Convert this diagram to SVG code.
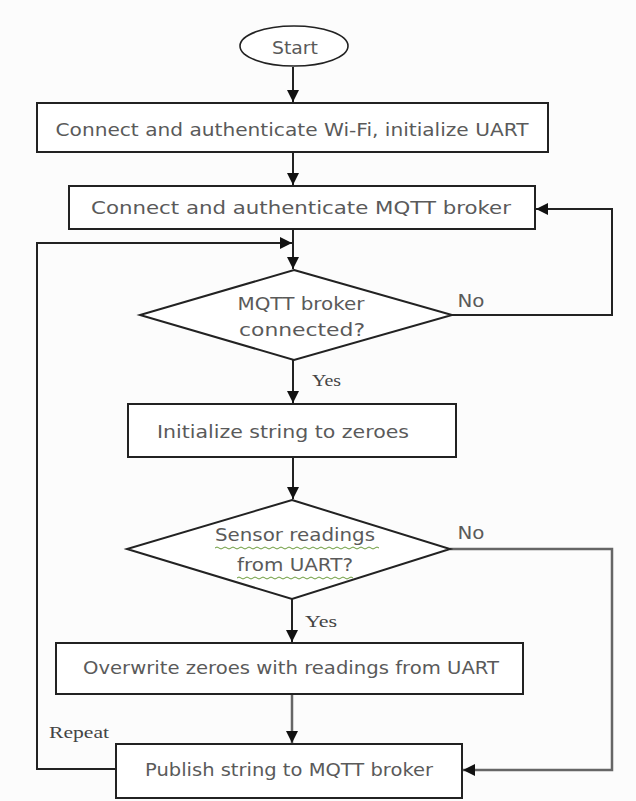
<svg xmlns="http://www.w3.org/2000/svg" width="636" height="801" viewBox="0 0 636 801">
<defs>
<marker id="ah" markerUnits="userSpaceOnUse" markerWidth="12" markerHeight="12" refX="12" refY="6" orient="auto">
<path d="M0,0 L12,6 L0,12 Z" fill="#111"/>
</marker>
<style>
.box{fill:#fff;stroke:#222;stroke-width:2}
.t{font-family:"DejaVu Sans","Liberation Sans",sans-serif;font-size:18px;fill:#5a5a5a;text-anchor:middle;dominant-baseline:central}
.s{font-family:"Liberation Serif","Times New Roman",serif;font-size:17px;fill:#444}
.ln{fill:none;stroke:#222;stroke-width:2}
.lg{fill:none;stroke:#666;stroke-width:2.5}
.sq{fill:none;stroke:#6a9a3a;stroke-width:1}
</style>
</defs>
<rect width="636" height="801" fill="#fcfcfc"/>
<g id="connectors">
<path class="ln" d="M293,67 V102" marker-end="url(#ah)"/>
<path class="ln" d="M293,152 V185" marker-end="url(#ah)"/>
<path class="ln" d="M293,229 V269" marker-end="url(#ah)"/>
<path class="ln" d="M452,315 H612 V209 H536" marker-end="url(#ah)"/>
<path class="ln" d="M293,360 V403" marker-end="url(#ah)"/>
<path class="ln" d="M293,457 V499" marker-end="url(#ah)"/>
<path class="lg" d="M450,549 H612 V770 H463" marker-end="url(#ah)"/>
<path class="ln" d="M292,599 V642" marker-end="url(#ah)"/>
<path class="lg" d="M292,694 V743" marker-end="url(#ah)"/>
<path class="ln" d="M116,769 H37 V243 H292" marker-end="url(#ah)"/>
</g>
<g id="start">
<ellipse cx="294" cy="46" rx="54" ry="20" fill="#fff" stroke="#222" stroke-width="1.6"/>
<text class="t" x="295" y="47" textLength="46" lengthAdjust="spacingAndGlyphs">Start</text>
</g>
<g id="wifi">
<rect class="box" x="37" y="103" width="511" height="49"/>
<text class="t" x="292" y="129" textLength="473" lengthAdjust="spacingAndGlyphs">Connect and authenticate Wi-Fi, initialize UART</text>
</g>
<g id="mqtt">
<rect class="box" x="69" y="186" width="466" height="43"/>
<text class="t" x="301" y="207" textLength="420" lengthAdjust="spacingAndGlyphs">Connect and authenticate MQTT broker</text>
</g>
<g id="mqttCheck">
<polygon class="box" points="294,270 452,315 294,360 140,315"/>
<text class="t" x="301" y="303" textLength="127" lengthAdjust="spacingAndGlyphs">MQTT broker</text>
<text class="t" x="302" y="329" textLength="126" lengthAdjust="spacingAndGlyphs">connected?</text>
</g>
<g id="init">
<rect class="box" x="128" y="404" width="328" height="53"/>
<text class="t" x="283" y="431" textLength="252" lengthAdjust="spacingAndGlyphs">Initialize string to zeroes</text>
</g>
<g id="sensorCheck">
<polygon class="box" points="292,500 450,549 292,599 127,549"/>
<text class="t" x="295" y="534" textLength="160" lengthAdjust="spacingAndGlyphs">Sensor readings</text>
<path class="sq" d="M215,548 q2,-2 4,0 t4,0 t4,0 t4,0 t4,0 t4,0 t4,0 t4,0 t4,0 t4,0 t4,0 t4,0 t4,0 t4,0 t4,0 t4,0 t4,0 t4,0 t4,0 t4,0 t4,0 t4,0 t4,0 t4,0 t4,0 t4,0 t4,0 t4,0 t4,0 t4,0 t4,0 t4,0 t4,0 t4,0 t4,0 t4,0 t4,0 t4,0 t4,0 t4,0 t4,0"/>
<text class="t" x="295" y="564" textLength="116" lengthAdjust="spacingAndGlyphs">from UART?</text>
<path class="sq" d="M237,578 q2,-2 4,0 t4,0 t4,0 t4,0 t4,0 t4,0 t4,0 t4,0 t4,0 t4,0 t4,0 t4,0 t4,0 t4,0 t4,0 t4,0 t4,0 t4,0 t4,0 t4,0 t4,0 t4,0 t4,0 t4,0 t4,0 t4,0 t4,0 t4,0 t4,0"/>
</g>
<g id="overwrite">
<rect class="box" x="56" y="643" width="467" height="51"/>
<text class="t" x="291" y="667" textLength="416" lengthAdjust="spacingAndGlyphs">Overwrite zeroes with readings from UART</text>
</g>
<g id="publish">
<rect class="box" x="116" y="744" width="346" height="54"/>
<text class="t" x="289" y="769" textLength="288" lengthAdjust="spacingAndGlyphs">Publish string to MQTT broker</text>
</g>
<g id="labels">
<text class="t" x="471" y="300" textLength="27" lengthAdjust="spacingAndGlyphs">No</text>
<text class="t" x="471" y="532" textLength="27" lengthAdjust="spacingAndGlyphs">No</text>
<text class="s" x="312" y="386" textLength="29" lengthAdjust="spacingAndGlyphs">Yes</text>
<text class="s" x="305" y="627" textLength="32" lengthAdjust="spacingAndGlyphs">Yes</text>
<text class="s" x="49" y="738" textLength="60" lengthAdjust="spacingAndGlyphs">Repeat</text>
</g>
</svg>
